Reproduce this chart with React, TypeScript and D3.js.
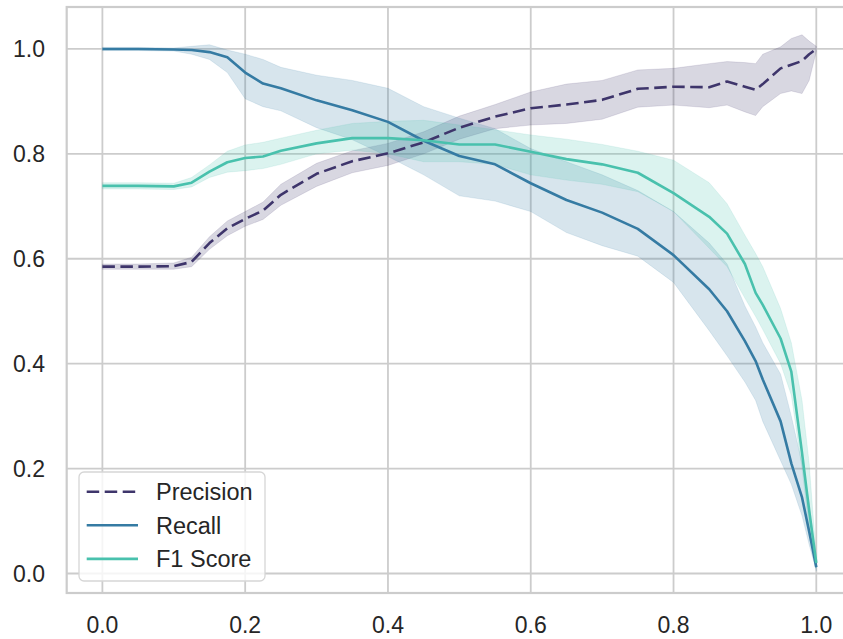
import React from 'react';
import * as d3 from 'd3';

// threshold grid (shared by all three series)
const THRESHOLDS = [0, 0.05, 0.1, 0.125, 0.15, 0.175, 0.2, 0.225, 0.25, 0.3, 0.35, 0.4, 0.45, 0.5, 0.55, 0.6, 0.65, 0.7, 0.75, 0.8, 0.85, 0.875, 0.9, 0.915, 0.925, 0.95, 0.965, 0.98, 0.99, 1.0];

const PRECISION = [0.585, 0.585, 0.586, 0.594, 0.63, 0.658, 0.676, 0.692, 0.722, 0.762, 0.786, 0.801, 0.822, 0.85, 0.871, 0.887, 0.894, 0.903, 0.924, 0.928, 0.927, 0.938, 0.928, 0.922, 0.933, 0.963, 0.97, 0.977, 0.99, 1.0];
const PRECISION_LO = [0.58, 0.58, 0.58, 0.585, 0.618, 0.644, 0.662, 0.675, 0.702, 0.738, 0.764, 0.778, 0.8, 0.828, 0.848, 0.855, 0.858, 0.866, 0.889, 0.893, 0.888, 0.893, 0.88, 0.873, 0.89, 0.915, 0.92, 0.915, 0.94, 0.995];
const PRECISION_HI = [0.59, 0.59, 0.592, 0.603, 0.642, 0.672, 0.69, 0.708, 0.742, 0.782, 0.806, 0.82, 0.842, 0.872, 0.894, 0.918, 0.933, 0.94, 0.96, 0.963, 0.972, 0.976, 0.974, 0.972, 0.99, 1.004, 1.02, 1.027, 1.015, 1.005];

const RECALL = [1.0, 1.0, 0.999, 0.998, 0.994, 0.984, 0.955, 0.934, 0.925, 0.902, 0.883, 0.861, 0.825, 0.796, 0.78, 0.744, 0.712, 0.688, 0.657, 0.607, 0.542, 0.5, 0.443, 0.405, 0.37, 0.29, 0.21, 0.145, 0.08, 0.012];
const RECALL_LO = [0.997, 0.997, 0.996, 0.99, 0.98, 0.955, 0.905, 0.89, 0.882, 0.85, 0.827, 0.795, 0.76, 0.72, 0.71, 0.69, 0.65, 0.625, 0.605, 0.555, 0.463, 0.415, 0.365, 0.33, 0.29, 0.215, 0.17, 0.11, 0.055, 0.005];
const RECALL_HI = [1.003, 1.003, 1.002, 1.005, 1.008, 0.998, 0.99, 0.98, 0.965, 0.95, 0.94, 0.925, 0.89, 0.868, 0.848, 0.81, 0.785, 0.76, 0.73, 0.69, 0.63, 0.59, 0.51, 0.47, 0.44, 0.38, 0.3, 0.21, 0.135, 0.02];

const F1 = [0.739, 0.739, 0.738, 0.745, 0.766, 0.784, 0.792, 0.795, 0.806, 0.82, 0.83, 0.83, 0.826, 0.818, 0.818, 0.804, 0.79, 0.78, 0.764, 0.725, 0.68, 0.648, 0.59, 0.535, 0.512, 0.448, 0.385, 0.23, 0.12, 0.02];
const F1_LO = [0.733, 0.733, 0.732, 0.737, 0.755, 0.765, 0.768, 0.772, 0.78, 0.8, 0.807, 0.8, 0.785, 0.785, 0.78, 0.76, 0.75, 0.742, 0.728, 0.69, 0.62, 0.585, 0.525, 0.49, 0.465, 0.4, 0.34, 0.2, 0.085, 0.01];
const F1_HI = [0.745, 0.745, 0.744, 0.755, 0.779, 0.805, 0.817, 0.822, 0.83, 0.845, 0.858, 0.862, 0.864, 0.855, 0.846, 0.836, 0.828, 0.818, 0.805, 0.788, 0.745, 0.705, 0.645, 0.61, 0.585, 0.505, 0.44, 0.33, 0.21, 0.03];

const X_TICKS = [0, 0.2, 0.4, 0.6, 0.8, 1.0];
const Y_TICKS = [0, 0.2, 0.4, 0.6, 0.8, 1.0];

const SERIES = [
  { name: 'Precision', mean: PRECISION, lo: PRECISION_LO, hi: PRECISION_HI, color: '#3e356b', dash: '12.5,5.5' },
  { name: 'Recall', mean: RECALL, lo: RECALL_LO, hi: RECALL_HI, color: '#357ba3', dash: null },
  { name: 'F1 Score', mean: F1, lo: F1_LO, hi: F1_HI, color: '#49c1ad', dash: null },
];

const W = 843, H = 639;
const box = { left: 66.7, right: 852, top: 7, bottom: 593 };
const FONT = '"Liberation Sans", Arial, sans-serif';
const GRID = '#cccccc';

export default function App() {
  const x = d3.scaleLinear().domain([-0.05, 1.05]).range([box.left, box.right]);
  const y = d3.scaleLinear().domain([-0.0372, 1.08]).range([box.bottom, box.top]);

  const rows = (s: typeof SERIES[number]) => THRESHOLDS.map((t, i) => ({ t, m: s.mean[i], lo: s.lo[i], hi: s.hi[i] }));
  const line = d3.line<any>().x(d => x(d.t)).y(d => y(d.m));
  const area = d3.area<any>().x(d => x(d.t)).y0(d => y(d.lo)).y1(d => y(d.hi));

  return (
    <svg width={W} height={H} style={{ position: 'absolute', left: 0, top: 0, background: '#fff' }} fontFamily={FONT}>
      <defs>
        <clipPath id="plot">
          <rect x={box.left} y={box.top} width={box.right - box.left} height={box.bottom - box.top} />
        </clipPath>
      </defs>

      {/* grid */}
      {X_TICKS.map(t => (
        <line key={'gx' + t} x1={x(t)} x2={x(t)} y1={box.top} y2={box.bottom} stroke={GRID} strokeWidth={1.8} />
      ))}
      {Y_TICKS.map(t => (
        <line key={'gy' + t} x1={box.left} x2={box.right} y1={y(t)} y2={y(t)} stroke={GRID} strokeWidth={1.8} />
      ))}

      <g clipPath="url(#plot)">
        {SERIES.map(s => (
          <path key={'a' + s.name} d={area(rows(s)) ?? ''} fill={s.color} fillOpacity={0.2} stroke={s.color} strokeOpacity={0.12} strokeWidth={1} />
        ))}
        {SERIES.map(s => (
          <path key={'l' + s.name} d={line(rows(s)) ?? ''} fill="none" stroke={s.color} strokeWidth={2.6}
            strokeDasharray={s.dash ?? undefined} strokeLinejoin="round" />
        ))}
      </g>

      {/* frame */}
      <rect x={box.left} y={box.top} width={box.right - box.left} height={box.bottom - box.top} fill="none" stroke={GRID} strokeWidth={2.2} />

      {/* tick labels */}
      {X_TICKS.map(t => (
        <text key={'tx' + t} x={x(t)} y={633} textAnchor="middle" fontSize={23} fill="#262626">{t.toFixed(1)}</text>
      ))}
      {Y_TICKS.map(t => (
        <text key={'ty' + t} x={45} y={y(t)} dy="0.36em" textAnchor="end" fontSize={23} fill="#262626">{t.toFixed(1)}</text>
      ))}

      {/* legend */}
      <rect x={79} y={472} width={186} height={109} rx={5} fill="#fff" fillOpacity={0.8} stroke="#d6d6d6" strokeWidth={1.3} />
      {SERIES.map((s, i) => {
        const cy = 491.7 + i * 33.6;
        return (
          <g key={'lg' + s.name}>
            <line x1={86.7} x2={138} y1={cy} y2={cy} stroke={s.color} strokeWidth={2.6} strokeDasharray={s.dash ?? undefined} />
            <text x={156} y={cy} dy="0.36em" fontSize={23.5} fill="#262626">{s.name}</text>
          </g>
        );
      })}
    </svg>
  );
}
